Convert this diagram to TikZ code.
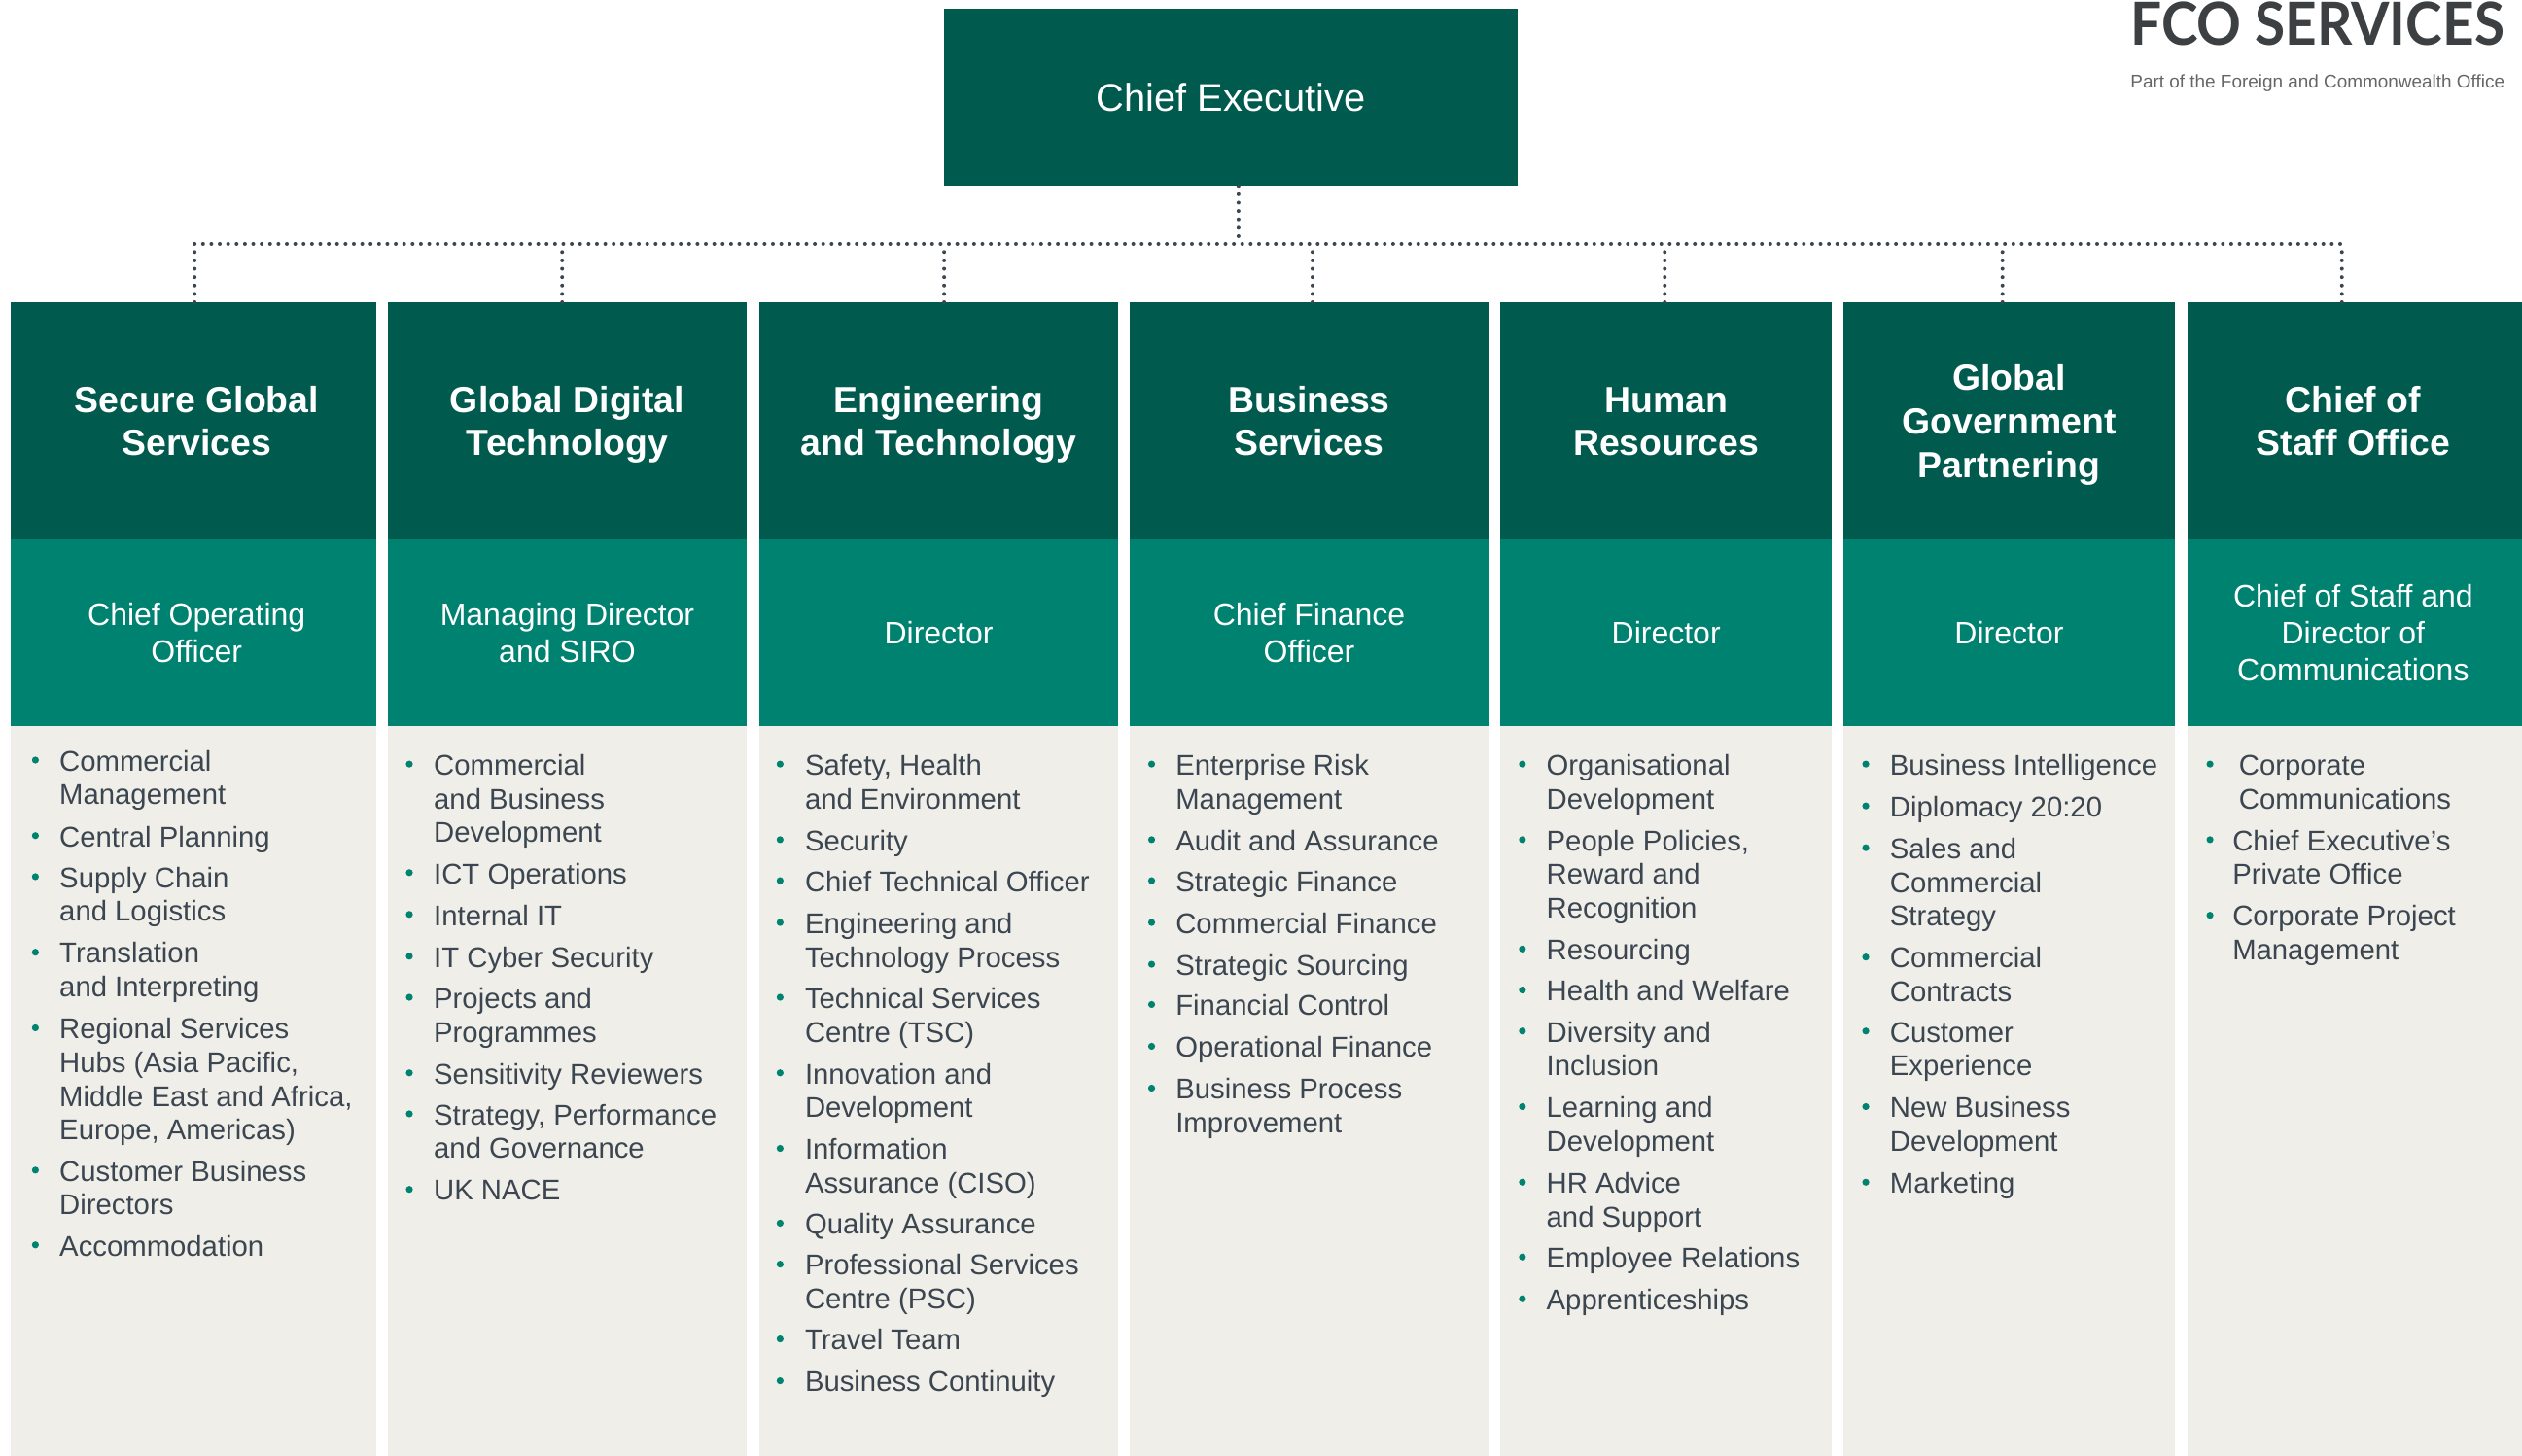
\documentclass[tikz,border=0pt]{standalone}
\usepackage{fontspec}
\usepackage{graphicx}
\setmainfont{Liberation Sans}
\newfontfamily\logofont{Lato}
\definecolor{fcodark}{HTML}{005A4E}
\definecolor{fcoteal}{HTML}{008270}
\definecolor{fcogrey}{HTML}{EFEEE9}
\definecolor{fcotext}{HTML}{3C4650}
\definecolor{fcodots}{HTML}{3D4650}
\definecolor{fcologo}{HTML}{3D4042}
\newlength{\unitlen}\setlength{\unitlen}{0.82715pt}
\tikzset{
  x=\unitlen, y=-\unitlen,
  panel/.style={inner sep=0pt, outer sep=0pt, align=center, text=white},
  chief/.style={panel, fill=fcodark, font=\fontsize{19.9}{24}\selectfont},
  headbox/.style={panel, fill=fcodark, font=\fontsize{18.7}{22.3}\bfseries\selectfont},
  rolebox/.style={panel, fill=fcoteal, font=\fontsize{16}{19}\selectfont},
  listbox/.style={panel, fill=fcogrey},
  itemtext/.style={inner sep=0pt, outer sep=0pt, anchor=north west, align=left, text=fcotext,
    font=\fontsize{14.65}{17.37}\selectfont},
  itemdot/.style={circle, fill=fcoteal, inner sep=0pt, minimum size=3.6pt},
  dotline/.style={draw=fcodots, line width=2pt, line cap=round, dash pattern=on 0pt off 4.31pt},
}
% column: id, left, right, heading, role
\newcommand{\fcocol}[5]{%
  \pgfmathsetmacro{\colmid}{(#2+#3)/2}%
  \pgfmathsetmacro{\colw}{#3-#2}%
  \node[headbox, minimum width=\colw*\unitlen, minimum height=147.5*\unitlen] (h#1) at (\colmid,261.75)
    {\rule{0pt}{17.4pt}#4\rule[-4pt]{0pt}{4pt}};
  \node[rolebox, minimum width=\colw*\unitlen, minimum height=116*\unitlen] (r#1) at (\colmid,393.5)
    {\rule{0pt}{15.5pt}#5\rule[-4pt]{0pt}{4pt}};
  \node[listbox, minimum width=\colw*\unitlen, minimum height=454*\unitlen] (l#1) at (\colmid,678.5) {};
}
% list item: name, y of first line centre, text (12pt above the first baseline = 14.51 units)
\newcommand{\fcoli}[3]{%
  \node[itemtext] (#1) at (\tx,#2+6-14.51) {\rule{0pt}{12pt}#3};
  \node[itemdot] (#1b) at (\bx,#2-0.8) {};
}
\newcommand{\rt}{\hspace*{3.2pt}}
\newcommand{\lf}{\hspace*{-1.6pt}}
\begin{document}
\begin{tikzpicture}
\useasboundingbox (0,0) rectangle (1568,905.5);
\fill[white] (0,0) rectangle (1568,905.5);

\node[chief, minimum width=356.6*\unitlen, minimum height=110*\unitlen] (ce) at (765.3,60.6) {Chief Executive};

\fcocol{1}{6.65}{234}{\rt Secure Global\\\rt Services}{\rt Chief Operating\\\rt Officer}
\fcocol{2}{241.2}{464.2}{Global Digital\\Technology}{Managing Director\\and SIRO}
\fcocol{3}{472.1}{695.2}{Engineering\\and Technology}{Director}
\fcocol{4}{702.4}{925.5}{Business\\Services}{Chief Finance\\Officer}
\fcocol{5}{932.7}{1139}{Human\\Resources}{Director}
\fcocol{6}{1146}{1352.2}{Global\\Government\\Partnering}{Director}
\fcocol{7}{1360}{1568}{\lf Chief of\\\lf Staff Office}{\lf Chief of Staff and\\\lf Director of\\\lf Communications}

% connectors
\coordinate (top) at (770,151.7);
\coordinate (d1) at (121,151.7);
\coordinate (d2) at (349.5,151.7);
\coordinate (d3) at (587,151.7);
\coordinate (d4) at (816,151.7);
\coordinate (d5) at (1035,151.7);
\coordinate (d6) at (1245,151.7);
\coordinate (d7) at (1456,151.7);
\draw[dotline] (top |- ce.south) -- (top);
\draw[dotline] (d1) -- (d7);
\draw[dotline] (d1 |- h1.north) -- (d1);
\draw[dotline] (d2 |- h2.north) -- (d2);
\draw[dotline] (d3 |- h3.north) -- (d3);
\draw[dotline] (d4 |- h4.north) -- (d4);
\draw[dotline] (d5 |- h5.north) -- (d5);
\draw[dotline] (d6 |- h6.north) -- (d6);
\draw[dotline] (d7 |- h7.north) -- (d7);

% column 1
\def\bx{22}\def\tx{37}
\fcoli{a1}{473.5}{Commercial\\Management}
\fcoli{a2}{520.5}{Central Planning}
\fcoli{a3}{546}{Supply Chain\\and Logistics}
\fcoli{a4}{593}{Translation\\and Interpreting}
\fcoli{a5}{640}{Regional Services\\Hubs (Asia Pacific,\\Middle East and Africa,\\Europe, Americas)}
\fcoli{a6}{728.5}{Customer Business\\Directors}
\fcoli{a7}{775}{Accommodation}
% column 2
\def\bx{254.5}\def\tx{269.7}
\fcoli{b1}{476}{Commercial\\and Business\\Development}
\fcoli{b2}{543.5}{ICT Operations}
\fcoli{b3}{569.5}{Internal IT}
\fcoli{b4}{595.5}{IT Cyber Security}
\fcoli{b5}{621}{Projects and\\Programmes}
\fcoli{b6}{668}{Sensitivity Reviewers}
\fcoli{b7}{693.5}{Strategy, Performance\\and Governance}
\fcoli{b8}{740.5}{UK NACE}
% column 3
\def\bx{485}\def\tx{500.5}
\fcoli{c1}{476}{Safety, Health\\and Environment}
\fcoli{c2}{523}{Security}
\fcoli{c3}{548.5}{Chief Technical Officer}
\fcoli{c4}{574.5}{Engineering and\\Technology Process}
\fcoli{c5}{621}{Technical Services\\Centre (TSC)}
\fcoli{c6}{668}{Innovation and\\Development}
\fcoli{c7}{715}{Information\\Assurance (CISO)}
\fcoli{c8}{761.5}{Quality Assurance}
\fcoli{c9}{787}{Professional Services\\Centre (PSC)}
\fcoli{c10}{833.5}{Travel Team}
\fcoli{c11}{859.5}{Business Continuity}
% column 4
\def\bx{716}\def\tx{731}
\fcoli{e1}{476}{Enterprise Risk\\Management}
\fcoli{e2}{523}{Audit and Assurance}
\fcoli{e3}{548.5}{Strategic Finance}
\fcoli{e4}{574.5}{Commercial Finance}
\fcoli{e5}{600.5}{Strategic Sourcing}
\fcoli{e6}{625.5}{Financial Control}
\fcoli{e7}{651.5}{Operational Finance}
\fcoli{e8}{677.5}{Business Process\\Improvement}
% column 5
\def\bx{946.5}\def\tx{961.5}
\fcoli{f1}{476}{Organisational\\Development}
\fcoli{f2}{523}{People Policies,\\Reward and\\Recognition}
\fcoli{f3}{591}{Resourcing}
\fcoli{f4}{616.5}{Health and Welfare}
\fcoli{f5}{642}{Diversity and\\Inclusion}
\fcoli{f6}{689}{Learning and\\Development}
\fcoli{f7}{736}{HR Advice\\and Support}
\fcoli{f8}{782.5}{Employee Relations}
\fcoli{f9}{808.5}{Apprenticeships}
% column 6
\def\bx{1160}\def\tx{1175}
\fcoli{g1}{476}{Business Intelligence}
\fcoli{g2}{502}{Diplomacy 20:20}
\fcoli{g3}{528}{Sales and\\Commercial\\Strategy}
\fcoli{g4}{596}{Commercial\\Contracts}
\fcoli{g5}{642}{Customer\\Experience}
\fcoli{g6}{689}{New Business\\Development}
\fcoli{g7}{736}{Marketing}
% column 7
\def\bx{1374}\def\tx{1392}
\fcoli{k1}{476}{Corporate\\Communications}
\def\tx{1388}
\fcoli{k2}{523}{Chief Executive’s\\Private Office}
\fcoli{k3}{570}{Corporate Project\\Management}

% logo
\node[inner sep=0pt, anchor=base west, text=fcologo] (logo) at (1324.3,28.4)
  {\resizebox{232.5\unitlen}{27\unitlen}{\logofont\bfseries FCO SERVICES}};
\node[inner sep=0pt, anchor=base west, text=black!60] (sub) at (1324.4,54.6)
  {\resizebox{232.5\unitlen}{!}{\fontsize{10}{12}\selectfont Part of the Foreign and Commonwealth Office}};
\end{tikzpicture}
\end{document}
